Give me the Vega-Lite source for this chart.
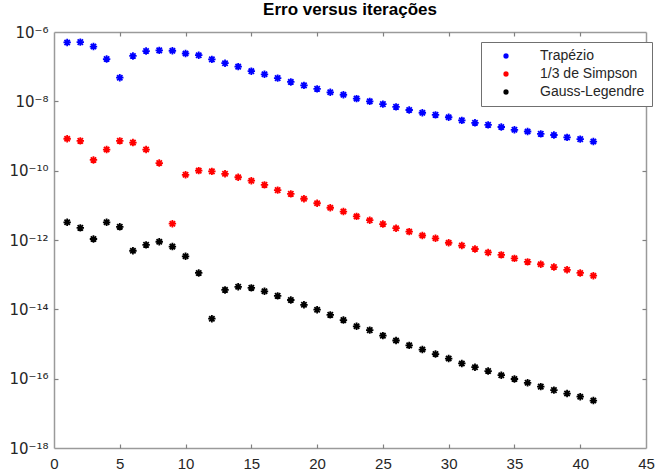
{
  "$schema": "https://vega.github.io/schema/vega-lite/v6.json",
  "width": 592,
  "height": 416,
  "autosize": {"type": "none"},
  "padding": {"left": 54, "top": 32, "right": 11, "bottom": 22},
  "background": "white",
  "title": {"text": "Erro versus iterações", "font": "Liberation Sans", "fontSize": 17, "fontWeight": "bold", "color": "#000000", "anchor": "middle", "frame": "group", "offset": 6},
  "config": {
    "view": {"stroke": null},
    "axis": {"labelFont": "Liberation Sans", "labelFontSize": 15, "labelColor": "#262626", "domainColor": "#9a9a9a", "domainWidth": 1.5, "tickColor": "#808080", "tickWidth": 1.2, "grid": false, "title": null}
  },
  "data": {"values": [
    {"m": "Trapézio", "i": 1, "e": 5.0e-7}, {"m": "Trapézio", "i": 2, "e": 5.1e-7}, {"m": "Trapézio", "i": 3, "e": 3.8e-7}, {"m": "Trapézio", "i": 4, "e": 1.66e-7}, {"m": "Trapézio", "i": 5, "e": 4.8e-8},
    {"m": "Trapézio", "i": 6, "e": 2.04e-7}, {"m": "Trapézio", "i": 7, "e": 2.82e-7}, {"m": "Trapézio", "i": 8, "e": 2.95e-7}, {"m": "Trapézio", "i": 9, "e": 2.88e-7}, {"m": "Trapézio", "i": 10, "e": 2.4e-7},
    {"m": "Trapézio", "i": 11, "e": 2.14e-7}, {"m": "Trapézio", "i": 12, "e": 1.62e-7}, {"m": "Trapézio", "i": 13, "e": 1.26e-7}, {"m": "Trapézio", "i": 14, "e": 1.0e-7}, {"m": "Trapézio", "i": 15, "e": 7.41e-8},
    {"m": "Trapézio", "i": 16, "e": 6.03e-8}, {"m": "Trapézio", "i": 17, "e": 4.68e-8}, {"m": "Trapézio", "i": 18, "e": 3.63e-8}, {"m": "Trapézio", "i": 19, "e": 2.88e-8}, {"m": "Trapézio", "i": 20, "e": 2.29e-8},
    {"m": "Trapézio", "i": 21, "e": 1.82e-8}, {"m": "Trapézio", "i": 22, "e": 1.55e-8}, {"m": "Trapézio", "i": 23, "e": 1.2e-8}, {"m": "Trapézio", "i": 24, "e": 1.0e-8}, {"m": "Trapézio", "i": 25, "e": 8.32e-9},
    {"m": "Trapézio", "i": 26, "e": 6.92e-9}, {"m": "Trapézio", "i": 27, "e": 5.62e-9}, {"m": "Trapézio", "i": 28, "e": 4.68e-9}, {"m": "Trapézio", "i": 29, "e": 4.07e-9}, {"m": "Trapézio", "i": 30, "e": 3.47e-9},
    {"m": "Trapézio", "i": 31, "e": 2.82e-9}, {"m": "Trapézio", "i": 32, "e": 2.4e-9}, {"m": "Trapézio", "i": 33, "e": 2.09e-9}, {"m": "Trapézio", "i": 34, "e": 1.82e-9}, {"m": "Trapézio", "i": 35, "e": 1.51e-9},
    {"m": "Trapézio", "i": 36, "e": 1.35e-9}, {"m": "Trapézio", "i": 37, "e": 1.15e-9}, {"m": "Trapézio", "i": 38, "e": 1.07e-9}, {"m": "Trapézio", "i": 39, "e": 9.12e-10}, {"m": "Trapézio", "i": 40, "e": 8.13e-10},
    {"m": "Trapézio", "i": 41, "e": 6.92e-10},
    {"m": "1/3 de Simpson", "i": 1, "e": 8.32e-10}, {"m": "1/3 de Simpson", "i": 2, "e": 7.24e-10}, {"m": "1/3 de Simpson", "i": 3, "e": 2.04e-10}, {"m": "1/3 de Simpson", "i": 4, "e": 4.07e-10}, {"m": "1/3 de Simpson", "i": 5, "e": 7.24e-10},
    {"m": "1/3 de Simpson", "i": 6, "e": 6.46e-10}, {"m": "1/3 de Simpson", "i": 7, "e": 4.07e-10}, {"m": "1/3 de Simpson", "i": 8, "e": 1.66e-10}, {"m": "1/3 de Simpson", "i": 9, "e": 2.95e-12}, {"m": "1/3 de Simpson", "i": 10, "e": 7.59e-11},
    {"m": "1/3 de Simpson", "i": 11, "e": 1.0e-10}, {"m": "1/3 de Simpson", "i": 12, "e": 9.55e-11}, {"m": "1/3 de Simpson", "i": 13, "e": 8.13e-11}, {"m": "1/3 de Simpson", "i": 14, "e": 6.46e-11}, {"m": "1/3 de Simpson", "i": 15, "e": 5.13e-11},
    {"m": "1/3 de Simpson", "i": 16, "e": 3.89e-11}, {"m": "1/3 de Simpson", "i": 17, "e": 2.75e-11}, {"m": "1/3 de Simpson", "i": 18, "e": 2.14e-11}, {"m": "1/3 de Simpson", "i": 19, "e": 1.55e-11}, {"m": "1/3 de Simpson", "i": 20, "e": 1.15e-11},
    {"m": "1/3 de Simpson", "i": 21, "e": 8.51e-12}, {"m": "1/3 de Simpson", "i": 22, "e": 6.61e-12}, {"m": "1/3 de Simpson", "i": 23, "e": 4.79e-12}, {"m": "1/3 de Simpson", "i": 24, "e": 3.72e-12}, {"m": "1/3 de Simpson", "i": 25, "e": 2.88e-12},
    {"m": "1/3 de Simpson", "i": 26, "e": 2.19e-12}, {"m": "1/3 de Simpson", "i": 27, "e": 1.74e-12}, {"m": "1/3 de Simpson", "i": 28, "e": 1.35e-12}, {"m": "1/3 de Simpson", "i": 29, "e": 1.12e-12}, {"m": "1/3 de Simpson", "i": 30, "e": 8.32e-13},
    {"m": "1/3 de Simpson", "i": 31, "e": 6.92e-13}, {"m": "1/3 de Simpson", "i": 32, "e": 5.5e-13}, {"m": "1/3 de Simpson", "i": 33, "e": 4.37e-13}, {"m": "1/3 de Simpson", "i": 34, "e": 3.72e-13}, {"m": "1/3 de Simpson", "i": 35, "e": 2.95e-13},
    {"m": "1/3 de Simpson", "i": 36, "e": 2.34e-13}, {"m": "1/3 de Simpson", "i": 37, "e": 2.0e-13}, {"m": "1/3 de Simpson", "i": 38, "e": 1.66e-13}, {"m": "1/3 de Simpson", "i": 39, "e": 1.38e-13}, {"m": "1/3 de Simpson", "i": 40, "e": 1.12e-13},
    {"m": "1/3 de Simpson", "i": 41, "e": 9.33e-14},
    {"m": "Gauss-Legendre", "i": 1, "e": 3.24e-12}, {"m": "Gauss-Legendre", "i": 2, "e": 2.24e-12}, {"m": "Gauss-Legendre", "i": 3, "e": 1.07e-12}, {"m": "Gauss-Legendre", "i": 4, "e": 3.24e-12}, {"m": "Gauss-Legendre", "i": 5, "e": 2.4e-12},
    {"m": "Gauss-Legendre", "i": 6, "e": 4.9e-13}, {"m": "Gauss-Legendre", "i": 7, "e": 7.24e-13}, {"m": "Gauss-Legendre", "i": 8, "e": 8.91e-13}, {"m": "Gauss-Legendre", "i": 9, "e": 6.46e-13}, {"m": "Gauss-Legendre", "i": 10, "e": 3.39e-13},
    {"m": "Gauss-Legendre", "i": 11, "e": 1.12e-13}, {"m": "Gauss-Legendre", "i": 12, "e": 5.37e-15}, {"m": "Gauss-Legendre", "i": 13, "e": 3.63e-14}, {"m": "Gauss-Legendre", "i": 14, "e": 4.47e-14}, {"m": "Gauss-Legendre", "i": 15, "e": 4.17e-14},
    {"m": "Gauss-Legendre", "i": 16, "e": 3.31e-14}, {"m": "Gauss-Legendre", "i": 17, "e": 2.45e-14}, {"m": "Gauss-Legendre", "i": 18, "e": 1.86e-14}, {"m": "Gauss-Legendre", "i": 19, "e": 1.35e-14}, {"m": "Gauss-Legendre", "i": 20, "e": 9.77e-15},
    {"m": "Gauss-Legendre", "i": 21, "e": 6.92e-15}, {"m": "Gauss-Legendre", "i": 22, "e": 4.9e-15}, {"m": "Gauss-Legendre", "i": 23, "e": 3.24e-15}, {"m": "Gauss-Legendre", "i": 24, "e": 2.51e-15}, {"m": "Gauss-Legendre", "i": 25, "e": 1.74e-15},
    {"m": "Gauss-Legendre", "i": 26, "e": 1.26e-15}, {"m": "Gauss-Legendre", "i": 27, "e": 9.12e-16}, {"m": "Gauss-Legendre", "i": 28, "e": 6.92e-16}, {"m": "Gauss-Legendre", "i": 29, "e": 5.13e-16}, {"m": "Gauss-Legendre", "i": 30, "e": 3.8e-16},
    {"m": "Gauss-Legendre", "i": 31, "e": 2.75e-16}, {"m": "Gauss-Legendre", "i": 32, "e": 2.14e-16}, {"m": "Gauss-Legendre", "i": 33, "e": 1.66e-16}, {"m": "Gauss-Legendre", "i": 34, "e": 1.26e-16}, {"m": "Gauss-Legendre", "i": 35, "e": 9.77e-17},
    {"m": "Gauss-Legendre", "i": 36, "e": 7.59e-17}, {"m": "Gauss-Legendre", "i": 37, "e": 5.89e-17}, {"m": "Gauss-Legendre", "i": 38, "e": 4.68e-17}, {"m": "Gauss-Legendre", "i": 39, "e": 3.72e-17}, {"m": "Gauss-Legendre", "i": 40, "e": 3.02e-17},
    {"m": "Gauss-Legendre", "i": 41, "e": 2.34e-17}
  ]},
  "layer": [
    {
      "mark": {"type": "point", "shape": "M0,-1L0,1M-1,0L1,0M-0.72,-0.72L0.72,0.72M-0.72,0.72L0.72,-0.72", "filled": false, "size": 55, "strokeWidth": 1.8, "opacity": 1},
      "encoding": {
        "x": {"field": "i", "type": "quantitative", "scale": {"domain": [0, 45], "nice": false, "zero": false},
              "axis": {"orient": "bottom", "values": [0, 5, 10, 15, 20, 25, 30, 35, 40, 45], "ticks": false, "labelPadding": 8, "labelFlush": false}},
        "y": {"field": "e", "type": "quantitative", "scale": {"type": "log", "domain": [1e-18, 1e-6], "nice": false},
              "axis": {"orient": "left", "values": [1e-18, 1e-16, 1e-14, 1e-12, 1e-10, 1e-8, 1e-6], "ticks": false, "labelPadding": 6, "labelFlush": false,
                       "labelFont": "DejaVu Sans", "labelFontSize": 15,
                       "labelExpr": "'10' + ['⁻¹⁸','⁻¹⁶','⁻¹⁴','⁻¹²','⁻¹⁰','⁻⁸','⁻⁶'][round((log(datum.value)/LN10 + 18)/2)]"}},
        "color": {"field": "m", "type": "nominal",
                  "scale": {"domain": ["Trapézio", "1/3 de Simpson", "Gauss-Legendre"], "range": ["#0000ff", "#ff0000", "#000000"]},
                  "legend": {"title": null, "orient": "none", "legendX": 427, "legendY": 10, "direction": "vertical",
                             "fillColor": "white", "strokeColor": "#707070", "padding": 7,
                             "symbolType": "M0,-1L0,1M-1,0L1,0M-0.72,-0.72L0.72,0.72M-0.72,0.72L0.72,-0.72", "symbolSize": 30, "symbolStrokeWidth": 1.6,
                             "symbolOffset": 11, "labelOffset": 27, "labelFont": "Liberation Sans", "labelFontSize": 14, "labelColor": "#262626", "rowPadding": 4, "labelLimit": 300}}
      }
    },
    {
      "mark": {"type": "point", "opacity": 0},
      "encoding": {
        "x": {"field": "i", "type": "quantitative", "axis": {"orient": "bottom", "offset": -4, "values": [5, 10, 15, 20, 25, 30, 35, 40], "tickSize": 4, "domain": false, "labels": false}},
        "y": {"field": "e", "type": "quantitative", "axis": {"orient": "left", "offset": -4, "values": [1e-16, 1e-14, 1e-12, 1e-10, 1e-8], "tickSize": 4, "domain": false, "labels": false}}
      }
    },
    {
      "mark": {"type": "point", "opacity": 0},
      "encoding": {
        "x": {"field": "i", "type": "quantitative", "axis": {"orient": "top", "ticks": false, "labels": false}},
        "y": {"field": "e", "type": "quantitative", "axis": {"orient": "right", "ticks": false, "labels": false}}
      }
    },
    {
      "mark": {"type": "point", "opacity": 0},
      "encoding": {
        "x": {"field": "i", "type": "quantitative", "axis": {"orient": "top", "offset": -4, "values": [5, 10, 15, 20, 25, 30, 35, 40], "tickSize": 4, "domain": false, "labels": false}},
        "y": {"field": "e", "type": "quantitative", "axis": {"orient": "right", "offset": -4, "values": [1e-16, 1e-14, 1e-12, 1e-10, 1e-8], "tickSize": 4, "domain": false, "labels": false}}
      }
    }
  ],
  "resolve": {"axis": {"x": "independent", "y": "independent"}}
}
